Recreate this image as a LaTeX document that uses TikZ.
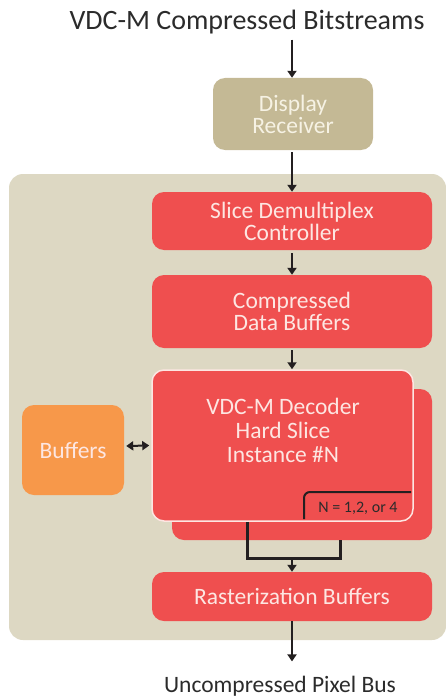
\documentclass[tikz,border=0pt]{standalone}
\usepackage{fontspec}
\setmainfont{Carlito}
\usepackage{tikz}
\usetikzlibrary{arrows.meta,positioning,calc}
\definecolor{panelbg}{HTML}{DDD8C3}
\definecolor{tanbox}{HTML}{C4B995}
\definecolor{redbox}{HTML}{EF4F4F}
\definecolor{orangebox}{HTML}{F7984A}
\definecolor{redtext}{HTML}{FDE6E2}
\definecolor{tantext}{HTML}{F6F2E4}
\definecolor{arrowcol}{HTML}{231F20}
\definecolor{titletext}{HTML}{2B2B2B}

\begin{document}
\begin{tikzpicture}[x=1pt,y=-1pt,
  box/.style={rounded corners=12pt,inner sep=0pt,align=center,font=\fontsize{23.5}{22}\selectfont},
  redblock/.style={box,fill=redbox,text=redtext},
  arr/.style={draw=arrowcol,line width=2pt,-{Triangle[width=9pt,length=7pt]}},
  link/.style={draw=arrowcol,line width=3pt}]
\useasboundingbox (0,0) rectangle (446,698);
% background panel
\fill[panelbg,rounded corners=14pt] (9,174) rectangle (446,640);
% top
\node[text=titletext,font=\fontsize{28}{30}\selectfont] (title) at (247,22) {VDC-M Compressed Bitstreams};
\node[box,fill=tanbox,text=tantext,minimum width=160pt,minimum height=72pt] (disp) at (293,114) {Display\\Receiver};
% decoder chain
\node[redblock,minimum width=280pt,minimum height=58pt] (slice) at (292,221) {Slice Demultiplex\\Controller};
\node[redblock,minimum width=280pt,minimum height=73pt] (cdb) at (292,311.5) {Compressed\\Data Buffers};
\node[redblock,minimum width=260pt,minimum height=151pt] (back) at (302,464.5) {};
\node[redblock,draw=redtext,line width=1.5pt,minimum width=261pt,minimum height=151pt] (front) at (282.5,445.5) {};
\node[align=center,text=redtext,font=\fontsize{23.5}{24}\selectfont] (dectext) at (283,430) {VDC-M Decoder\\Hard Slice\\Instance \#N};
\draw[arrowcol,line width=2pt,rounded corners=6pt] (304,519) -- (304,492) -- (411,492);
\node[text=titletext,font=\fontsize{16}{18}\selectfont] (nlabel) at (358,508) {N = 1,2, or 4};
\node[redblock,minimum width=280pt,minimum height=49pt] (rast) at (292,596.5) {Rasterization Buffers};
\node[box,fill=orangebox,text=redtext,minimum width=102pt,minimum height=90pt] (buf) at (73,450) {Buffers};
% bottom
\node[text=titletext,font=\fontsize{23.5}{25}\selectfont] (out) at (280,686) {Uncompressed Pixel Bus};
% connectors
\draw[arr] (title.south -| slice) ++(0,2) -- (slice |- disp.north);
\draw[arr] (disp.south -| slice) ++(0,2) -- (slice.north);
\draw[arr] (slice.south) ++(0,3) -- (cdb.north);
\draw[arr] (cdb.south) ++(0,2) -- (cdb.south |- front.north);
\draw[draw=arrowcol,line width=2pt,{Triangle[width=9pt,length=7pt]}-{Triangle[width=9pt,length=7pt]}] (buf.east) ++(2,-4) -- ($(front.west)+(-2,0)$);
\coordinate (mL) at (247,558);
\coordinate (mR) at (340,558);
\draw[link] (front.south -| mL) -- (mL) -- (mR) -- (back.south -| mR);
\draw[arr] (mL -| rast) -- (rast.north);
\draw[arr] (rast.south) -- ($(rast.south |- out.north)+(0,-11)$);
\end{tikzpicture}
\end{document}
